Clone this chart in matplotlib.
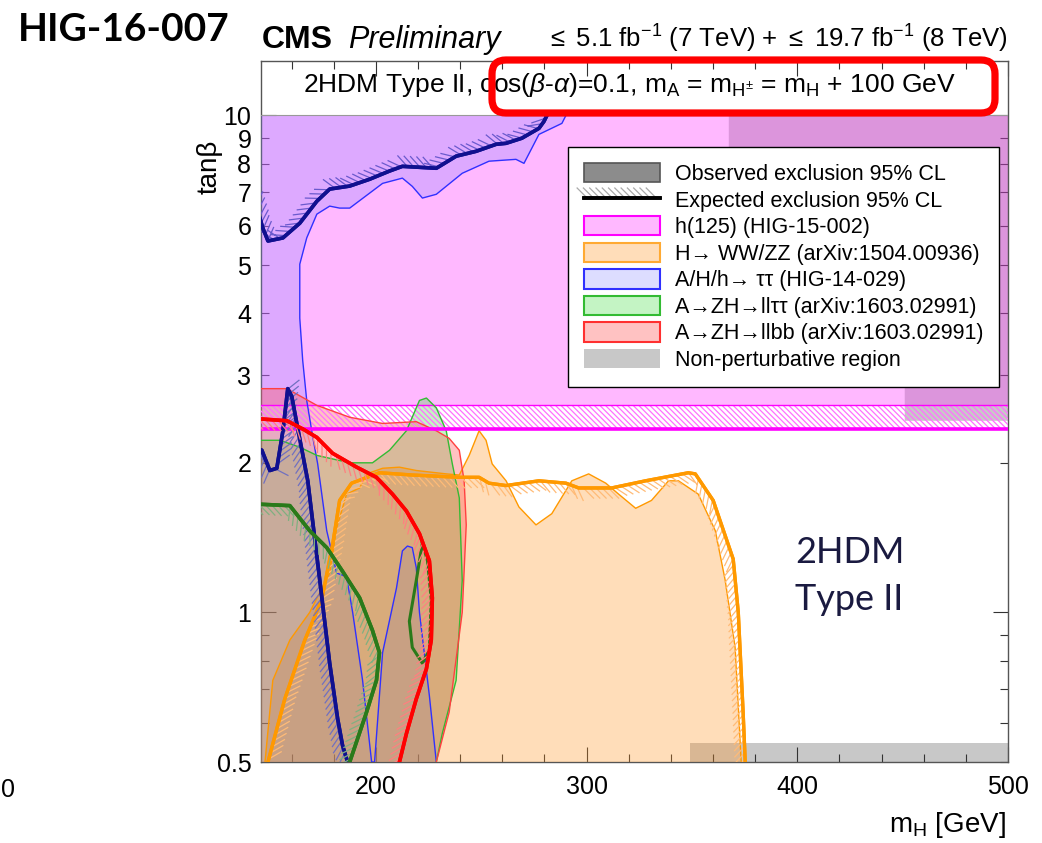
import numpy as np
import matplotlib.pyplot as plt
import matplotlib.patheffects as pe
import matplotlib.transforms as mtransforms
from matplotlib.patches import Patch, FancyBboxPatch
from matplotlib.lines import Line2D

plt.rcParams['font.family'] = ['Liberation Sans', 'DejaVu Sans']
plt.rcParams['mathtext.fontset'] = 'custom'
plt.rcParams['mathtext.rm'] = 'Liberation Sans'
plt.rcParams['mathtext.it'] = 'Liberation Sans:italic'
plt.rcParams['mathtext.bf'] = 'Liberation Sans:bold'
plt.rcParams['hatch.linewidth'] = 0.9

# --- exclusion contours: (m_H [GeV], tan beta) ---
# h(125) couplings (HIG-15-002): flat bands
h125_m = [140, 505]
h125_obs = 2.61
h125_exp = 2.34

# A/H/h -> tautau (HIG-14-029), observed (excluded side = left/top)
tt_obs_m = [140, 290.2, 288.3, 277.4, 270.3, 266.5, 253.7, 241.0, 228.7, 222.1, 217.3,
            212.6, 203.2, 187.6, 182.8, 178.1, 172.0, 167.2, 163.9, 163.9, 165.3, 167.2,
            170.1, 172.4, 176.7, 181.4, 186.1, 189.0, 193.7, 198.0, 199.4, 203.2, 209.8,
            212.6, 215.0, 217.3, 219.2, 220.7, 225.4, 228.7, 140]
tt_obs_tb = [10, 10, 9.64, 9.16, 8.01, 8.16, 8.09, 7.65, 6.94, 6.82, 7.20,
             7.48, 7.30, 6.51, 6.51, 6.57, 6.33, 5.67, 5.02, 3.91, 3.21, 2.67,
             2.25, 1.99, 1.46, 1.20, 1.18, 1.00, 0.73, 0.5, 0.5, 0.83, 1.12,
             1.33, 1.36, 1.35, 1.23, 1.00, 0.68, 0.5, 0.5]
# expected, upper branch and lower branch
tt_exp1_m = [140, 146.4, 148.8, 155.9, 163.9, 172.0, 178.1, 187.6, 197.0, 206.5, 212.6,
             228.7, 238.1, 247.6, 257.1, 261.8, 269.3, 277.4, 279.8, 281.2]
tt_exp1_tb = [7.3, 5.93, 5.59, 5.67, 6.07, 6.72, 7.11, 7.21, 7.44, 7.73, 7.90,
              7.83, 8.28, 8.47, 8.75, 8.79, 9.0, 9.42, 9.73, 10.0]
tt_exp2_m = [140, 145.9, 149.7, 153.0, 155.9, 158.2, 160.1, 162.5, 167.7, 173.4, 178.1,
             181.9, 184.2, 186.6]
tt_exp2_tb = [2.17, 2.12, 1.93, 1.95, 2.32, 2.82, 2.72, 2.40, 1.84, 1.16, 0.79,
              0.61, 0.54, 0.5]

# H -> WW/ZZ (arXiv:1504.00936)
ww_obs_m = [147.4, 151.1, 159.2, 168.6, 178.1, 181.4, 186.1, 192.3, 195.6, 203.2, 211.2,
            219.2, 233.4, 239.6, 244.3, 249.0, 252.3, 255.2, 261.8, 267.9, 276.0, 283.5,
            293.0, 301.0, 309.1, 315.2, 323.3, 330.8, 338.9, 343.6, 353.0, 361.1, 365.8,
            370.5, 373.4]
ww_obs_tb = [0.5, 0.73, 0.88, 1.00, 1.20, 1.48, 1.73, 1.78, 1.90, 1.95, 1.96,
             1.93, 1.90, 1.89, 2.07, 2.32, 2.22, 1.99, 1.84, 1.63, 1.50, 1.58,
             1.84, 1.90, 1.82, 1.73, 1.62, 1.68, 1.84, 1.84, 1.73, 1.46, 1.16,
             0.85, 0.5]
ww_exp_m = [148.8, 156.8, 166.3, 174.3, 179.5, 182.8, 188.5, 201.7, 217.3, 239.6, 249.0,
            253.7, 261.8, 277.4, 290.2, 296.3, 311.9, 328.0, 348.3, 351.6, 360.1, 369.6,
            372.0, 374.3, 375.3]
ww_exp_tb = [0.5, 0.67, 0.88, 1.06, 1.37, 1.68, 1.82, 1.91, 1.89, 1.87, 1.87,
             1.82, 1.80, 1.84, 1.82, 1.78, 1.78, 1.84, 1.91, 1.90, 1.68, 1.28,
             1.00, 0.63, 0.5]

# A -> ZH -> ll tautau (arXiv:1603.02991)
lltt_obs_m = [140, 154.5, 163.9, 172.0, 187.6, 198.4, 206.5, 214.5, 220.7, 224.0, 228.7,
              233.4, 236.3, 239.6, 241.0, 238.1, 231.5, 228.7, 140]
lltt_obs_tb = [2.22, 2.22, 2.15, 2.07, 2.00, 2.00, 2.12, 2.32, 2.67, 2.70, 2.58,
               2.32, 1.99, 1.70, 1.16, 0.73, 0.57, 0.5, 0.5]
lltt_exp1_m = [140, 145.9, 159.2, 168.6, 176.7, 184.2, 192.3, 198.4, 201.7, 200.3, 195.6, 187.6]
lltt_exp1_tb = [1.65, 1.65, 1.64, 1.46, 1.35, 1.21, 1.07, 0.92, 0.83, 0.73, 0.63, 0.5]
lltt_exp2_m = [222.1, 219.2, 215.9, 217.3, 222.1, 225.4, 226.3, 224.5, 222.1]
lltt_exp2_tb = [1.38, 1.16, 0.96, 0.85, 0.79, 0.84, 1.06, 1.27, 1.38]

# A -> ZH -> ll bb (arXiv:1603.02991)
llbb_obs_m = [140, 157.8, 172.0, 187.6, 203.2, 219.2, 228.7, 234.8, 239.6, 241.9, 242.9,
              241.0, 234.8, 228.7, 140]
llbb_obs_tb = [2.82, 2.82, 2.61, 2.47, 2.40, 2.42, 2.32, 2.24, 2.12, 1.84, 1.50,
               1.00, 0.63, 0.5, 0.5]
llbb_exp_m = [140, 145.9, 157.8, 165.3, 172.0, 179.5, 190.9, 200.3, 207.9, 214.5, 220.7,
              225.4, 226.8, 226.3, 224.0, 219.2, 214.5, 211.2]
llbb_exp_tb = [2.45, 2.45, 2.43, 2.34, 2.25, 2.09, 1.96, 1.87, 1.73, 1.60, 1.44,
               1.27, 1.07, 0.88, 0.77, 0.67, 0.57, 0.5]

# non-perturbative region
np_low_m = [349.3, 505, 505, 349.3]
np_low_tb = [0.45, 0.45, 0.546, 0.546]
np_high_m = [367.5, 505, 505, 451, 451, 367.5]
np_high_tb = [10, 10, 2.43, 2.43, 2.9, 8.6]

legend_labels = ['Observed exclusion 95% CL', 'Expected exclusion 95% CL',
                 'h(125) (HIG-15-002)', 'H\u2192 WW/ZZ (arXiv:1504.00936)',
                 'A/H/h\u2192 \u03c4\u03c4 (HIG-14-029)',
                 'A\u2192ZH\u2192ll\u03c4\u03c4 (arXiv:1603.02991)',
                 'A\u2192ZH\u2192llbb (arXiv:1603.02991)', 'Non-perturbative region']

# colours
c_pink = (1.0, 62 / 255, 1.0, 0.364)
c_blue = (130 / 255, 130 / 255, 1.0, 0.27)
c_orange = (1.0, 150 / 255, 40 / 255, 0.32)
c_green = (60 / 255, 220 / 255, 60 / 255, 0.30)
c_red = (1.0, 80 / 255, 80 / 255, 0.35)
c_grey = '#c8c8c8'


def ticked(angle, col):
    return [pe.withTickedStroke(angle=angle, spacing=4.5, length=2.3,
                                foreground=col, linewidth=0.9), pe.Normal()]


fig = plt.figure(figsize=(10.42, 8.43), dpi=100)
ax = fig.add_axes([261 / 1042, 81 / 843, 747 / 1042, 701.5 / 843])
ax.set_yscale('log')
ax.set_xlim(145.5, 500)
ax.set_ylim(0.5, 12.9)

# fills
ax.fill(np_low_m, np_low_tb, color=c_grey, lw=0, zorder=1)
ax.fill(np_high_m, np_high_tb, color=c_grey, lw=0, zorder=1)
ax.fill_between(h125_m, h125_obs, 10, facecolor=c_pink, lw=0, zorder=2)
ax.fill(ww_obs_m, ww_obs_tb, facecolor=c_orange, lw=0, zorder=3)
ax.fill(tt_obs_m, tt_obs_tb, facecolor=c_blue, lw=0, zorder=3)
ax.fill(lltt_obs_m, lltt_obs_tb, facecolor=c_green, lw=0, zorder=3)
ax.fill(llbb_obs_m, llbb_obs_tb, facecolor=c_red, lw=0, zorder=3)
ax.fill_between(h125_m, h125_exp, h125_obs, facecolor='none', edgecolor='#ff70ff',
                hatch='\\\\\\\\\\\\', lw=0, zorder=4)
ax.axhline(10, color='#999999', lw=0.8, zorder=4)

# observed edges
ax.plot(h125_m, [h125_obs] * 2, color='#ff00ff', lw=1.0, zorder=5)
ax.plot(ww_obs_m, ww_obs_tb, color='#ff9900', lw=1.0, zorder=5)
ax.plot(tt_obs_m[1:-1], tt_obs_tb[1:-1], color='#3030ff', lw=1.0, zorder=5)
ax.plot(lltt_obs_m[:-1], lltt_obs_tb[:-1], color='#33bb33', lw=1.0, zorder=5)
ax.plot(llbb_obs_m[:-1], llbb_obs_tb[:-1], color='#ff4040', lw=1.0, zorder=5)

# expected contours with hatching on the excluded side
ax.plot(h125_m, [h125_exp] * 2, color='#ff00ff', lw=2.6, zorder=6)
ax.plot(ww_exp_m, ww_exp_tb, color='#ff9900', lw=2.4, zorder=6,
        path_effects=ticked(-45, '#ffbb77'))
ax.plot(tt_exp1_m, tt_exp1_tb, color='#10108f', lw=2.6, zorder=6,
        path_effects=ticked(135, '#6a5acd'))
ax.plot(tt_exp2_m, tt_exp2_tb, color='#10108f', lw=2.6, zorder=6,
        path_effects=ticked(-45, '#7070c0'))
ax.plot(lltt_exp1_m, lltt_exp1_tb, color='#2a7a1a', lw=2.6, zorder=6,
        path_effects=ticked(-45, '#80b080'))
ax.plot(lltt_exp2_m, lltt_exp2_tb, color='#2a7a1a', lw=2.2, zorder=6)
ax.plot(llbb_exp_m, llbb_exp_tb, color='#ff0000', lw=2.6, zorder=6,
        path_effects=ticked(-45, '#ff8080'))

# axes styling
ax.set_xticks([200, 300, 400, 500])
ax.set_xticks([m for m in range(160, 500, 20) if m % 100], minor=True)
ax.set_yticks([1, 10], labels=['1', '10'])
ytm = [0.5, 0.6, 0.7, 0.8, 0.9, 2, 3, 4, 5, 6, 7, 8, 9]
ax.set_yticks(ytm, labels=['0.5', '', '', '', '', '2', '3', '4', '5', '6', '7', '8', '9'],
              minor=True)
ax.tick_params(which='both', direction='in', top=True, right=True, labelsize=18,
               width=0.8, color='#333333')
ax.tick_params(which='major', length=11)
ax.tick_params(which='minor', length=5.5)
ax.tick_params(axis='x', which='both', pad=9)
ax.tick_params(axis='y', which='both', pad=7)
for s in ax.spines.values():
    s.set_linewidth(1.0)
    s.set_color('#555555')

# legend
obs_h = Patch(facecolor='#8c8c8c', edgecolor='#555555', lw=1.2)
exp_h = Line2D([], [], color='black', lw=2.6, path_effects=ticked(135, '#aaaaaa'))
handles = [obs_h, exp_h,
           Patch(facecolor=c_pink, edgecolor='#ff00ff', lw=1.5),
           Patch(facecolor=c_orange, edgecolor='#ffaa33', lw=1.5),
           Patch(facecolor=c_blue, edgecolor='#3030ff', lw=1.5),
           Patch(facecolor=c_green, edgecolor='#33bb33', lw=1.5),
           Patch(facecolor=c_red, edgecolor='#ff3030', lw=1.5),
           Patch(facecolor=c_grey, edgecolor='none')]
leg = ax.legend(handles, legend_labels, loc='upper left', bbox_to_anchor=(0.411, 0.8767),
                borderaxespad=0, fontsize=15.5, fancybox=False, framealpha=1,
                edgecolor='black', handlelength=3.5, handleheight=1.0,
                handletextpad=0.7, labelspacing=0.21, borderpad=0.75)
leg.get_frame().set_linewidth(1.0)
leg.set_zorder(10)


def fx(x):
    return x / 1042


def fy(y):
    return 1 - y / 843


fig.text(fx(18), fy(41), 'HIG-16-007', family='Lato', fontsize=28, fontweight='bold',
         va='baseline')
fig.text(fx(262), fy(48), 'CMS', fontsize=23, fontweight='bold', va='baseline')
fig.text(fx(348), fy(48), 'Preliminary', fontsize=22, fontstyle='italic', va='baseline')
fig.text(fx(1008), fy(48), r'$\leq$ 5.1 fb$^{\mathrm{-1}}$ (7 TeV) + $\leq$ 19.7 fb$^{\mathrm{-1}}$ (8 TeV)',
         fontsize=18.5, ha='right', va='baseline')
fig.text(fx(303), fy(92),
         r'2HDM Type II, cos($\beta$-$\alpha$)=0.1, m$_\mathrm{A}$ = m$_{\mathrm{H}^{\pm}}$ = m$_\mathrm{H}$ + 100 GeV',
         fontsize=19, ha='left', va='baseline')
fig.text(fx(210), fy(140), 'tan\u03b2', fontsize=20, rotation=90, ha='center', va='top')
fig.text(fx(1006), fy(832), r'm$_\mathrm{H}$ [GeV]', fontsize=20, ha='right', va='baseline')
fig.text(fx(795), fy(563), '2HDM', family='Lato', fontsize=26, color='#1a1a40', va='baseline')
fig.text(fx(795), fy(610), 'Type II', family='Lato', fontsize=26, color='#1a1a40', va='baseline')
fig.text(fx(1), fy(797), '0', fontsize=18, va='baseline')

box = FancyBboxPatch((492, 843 - 113), 503, 53, boxstyle='round,pad=0,rounding_size=14',
                     transform=mtransforms.IdentityTransform(), facecolor='none',
                     edgecolor='#ff0000', lw=5.2, zorder=20)
fig.add_artist(box)

fig.savefig('out.png', dpi=100, facecolor='white')
